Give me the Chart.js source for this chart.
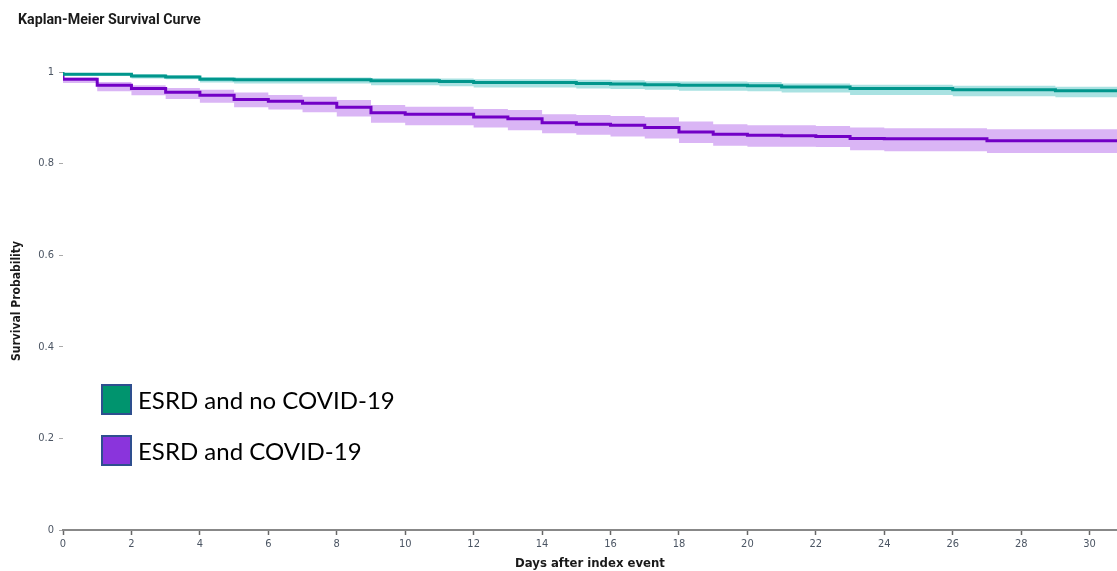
<!DOCTYPE html>
<html><head><meta charset="utf-8">
<script src="https://cdn.jsdelivr.net/npm/chart.js@4/dist/chart.umd.min.js"></script>
<style>
html,body{margin:0;padding:0;background:#fff;}
#wrap{position:relative;width:1117px;height:571px;overflow:hidden;}
#title{position:absolute;left:18px;top:10px;font-weight:bold;font-size:15px;font-family:Roboto,sans-serif;color:#1a1a1a;white-space:nowrap;transform:scaleX(0.95);transform-origin:0 0;}
.leg{position:absolute;left:101px;display:flex;align-items:center;font-family:Lato,'Open Sans',sans-serif;font-size:24px;color:#000;white-space:nowrap;}
.box{width:27px;height:27px;border:2px solid #2e4f8f;margin-right:6px;}
</style></head>
<body>
<div id="wrap">
<canvas id="c" width="1117" height="571"></canvas>
<div id="title">Kaplan-Meier Survival Curve</div>
<div class="leg" id="leg0" style="top:384px"><div class="box" id="box0"></div><span id="lt0"></span></div>
<div class="leg" id="leg1" style="top:435px"><div class="box" id="box1"></div><span id="lt1"></span></div>
</div>
<script>
const seriesNames = ['ESRD and no COVID-19', 'ESRD and COVID-19'];
const days = [0,1,2,3,4,5,6,7,8,9,10,11,12,13,14,15,16,17,18,19,20,21,22,23,24,25,26,27,28,29,30,31];
const noCovidSurv  = [1.000,0.995,0.995,0.991,0.989,0.984,0.983,0.983,0.983,0.983,0.981,0.981,0.979,0.977,0.977,0.977,0.975,0.974,0.972,0.971,0.971,0.970,0.967,0.967,0.964,0.964,0.964,0.961,0.961,0.961,0.959,0.959];
const noCovidUpper = [1.000,0.998,0.998,0.995,0.993,0.989,0.988,0.988,0.988,0.988,0.987,0.987,0.986,0.984,0.984,0.984,0.983,0.982,0.980,0.979,0.979,0.978,0.975,0.975,0.972,0.972,0.972,0.970,0.970,0.970,0.968,0.968];
const noCovidLower = [1.000,0.992,0.992,0.986,0.984,0.977,0.975,0.975,0.975,0.975,0.971,0.971,0.969,0.966,0.966,0.966,0.964,0.963,0.961,0.959,0.959,0.958,0.955,0.955,0.950,0.950,0.950,0.947,0.947,0.947,0.945,0.945];
const covidSurv  = [0.994,0.984,0.971,0.964,0.956,0.949,0.940,0.936,0.932,0.923,0.911,0.908,0.908,0.902,0.898,0.889,0.886,0.884,0.879,0.869,0.864,0.862,0.861,0.859,0.855,0.854,0.854,0.854,0.850,0.850,0.850,0.850];
const covidUpper = [0.995,0.988,0.978,0.971,0.965,0.961,0.955,0.950,0.946,0.939,0.928,0.924,0.924,0.919,0.917,0.908,0.906,0.904,0.901,0.892,0.886,0.884,0.884,0.882,0.879,0.877,0.877,0.877,0.875,0.875,0.875,0.875];
const covidLower = [0.993,0.976,0.958,0.949,0.941,0.933,0.923,0.918,0.912,0.903,0.889,0.884,0.884,0.879,0.873,0.866,0.863,0.859,0.855,0.845,0.839,0.837,0.837,0.836,0.829,0.827,0.827,0.827,0.823,0.823,0.823,0.823];
const xTickValues = [0,2,4,6,8,10,12,14,16,18,20,22,24,26,28,30];
const yTickValues = [0,0.2,0.4,0.6,0.8,1];

const tealLine = '#00968c', tealBand = '#a9e2e2';
const purpLine = '#7200c6', purpBand = '#dab5f5';
const tealBox = '#00946e', purpBox = '#8a34dc';
document.getElementById('lt0').textContent = seriesNames[0];
document.getElementById('lt1').textContent = seriesNames[1];
document.getElementById('box0').style.background = tealBox;
document.getElementById('box1').style.background = purpBox;

const pts = arr => days.map((d, i) => ({x: d, y: arr[i]}));
const narrow = "'Liberation Sans Narrow','DejaVu Sans Condensed',Roboto,sans-serif";

new Chart(document.getElementById('c'), {
  type: 'line',
  data: {
    datasets: [
      {label: seriesNames[0], data: pts(noCovidSurv), borderColor: tealLine, borderWidth: 3, stepped: 'after', pointRadius: 0, fill: false, order: 0},
      {label: seriesNames[1], data: pts(covidSurv), borderColor: purpLine, borderWidth: 3, stepped: 'after', pointRadius: 0, fill: false, order: 0},
      {label: 'u0', data: pts(noCovidUpper), borderWidth: 0, borderColor: 'rgba(0,0,0,0)', stepped: 'after', pointRadius: 0, fill: false, order: 1},
      {label: 'l0', data: pts(noCovidLower), borderWidth: 0, borderColor: 'rgba(0,0,0,0)', backgroundColor: tealBand, stepped: 'after', pointRadius: 0, fill: 2, order: 1},
      {label: 'u1', data: pts(covidUpper), borderWidth: 0, borderColor: 'rgba(0,0,0,0)', stepped: 'after', pointRadius: 0, fill: false, order: 1},
      {label: 'l1', data: pts(covidLower), borderWidth: 0, borderColor: 'rgba(0,0,0,0)', backgroundColor: purpBand, stepped: 'after', pointRadius: 0, fill: 4, order: 1}
    ]
  },
  options: {
    responsive: false,
    animation: false,
    layout: {padding: {left: 6, top: 72, right: 0, bottom: 0}},
    plugins: {legend: {display: false}, tooltip: {enabled: false}, title: {display: false}},
    scales: {
      x: {
        type: 'linear', min: 0, max: 30.8,
        afterBuildTicks: s => { s.ticks = xTickValues.map(v => ({value: v})); },
        afterFit: s => { s.height = 41; },
        grid: {display: true, drawOnChartArea: false, tickLength: 5, tickColor: '#666', tickWidth: 1.5},
        border: {display: true, color: '#888', width: 2},
        ticks: {padding: 3, color: '#4b5563', font: {family: narrow, size: 11}, maxRotation: 0, autoSkip: false,
                callback: v => String(v)},
        title: {display: true, text: 'Days after index event', color: '#1a1a1a', font: {family: narrow, size: 13, weight: 'bold'}, padding: {top: 0, bottom: 0}}
      },
      y: {
        type: 'linear', min: 0, max: 1,
        afterBuildTicks: s => { s.ticks = yTickValues.map(v => ({value: v})); },
        afterFit: s => { s.width = 57; },
        grid: {display: true, drawOnChartArea: false, tickLength: 4, tickColor: '#aaa'},
        border: {display: false},
        ticks: {padding: 5, color: '#4b5563', font: {family: narrow, size: 11},
                callback: v => String(Math.round(v * 10) / 10)},
        title: {display: true, text: 'Survival Probability', color: '#1a1a1a', font: {family: narrow, size: 12, weight: 'bold'}, padding: {top: 4, bottom: 4}}
      }
    }
  }
});
</script>
</body></html>
